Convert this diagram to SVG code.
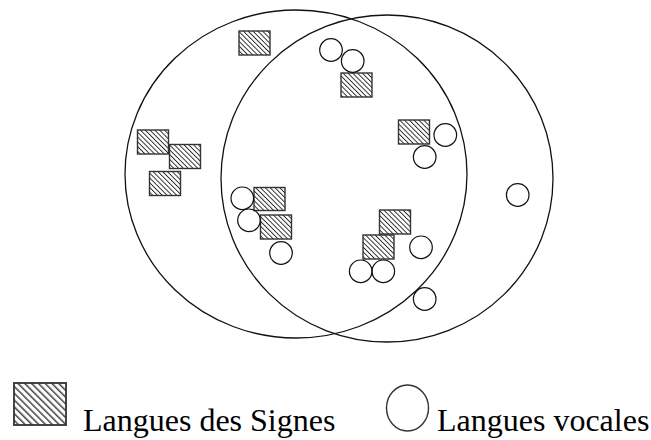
<svg xmlns="http://www.w3.org/2000/svg" width="651" height="440" viewBox="0 0 651 440">
<style>
.big{fill:none;stroke:#111;stroke-width:1.3}
.sq{fill:url(#hatch);stroke:#333;stroke-width:1.4}
.sqL{fill:url(#hatchL);stroke:#333;stroke-width:1.8}
.dot{fill:none;stroke:#111;stroke-width:1.2}
.lbl{font-size:32px;fill:#000}
</style>
<defs>
<pattern id="hatch" width="3.4" height="3.4" patternUnits="userSpaceOnUse" patternTransform="rotate(-45)">
<rect width="3.4" height="3.4" fill="#fff"/>
<line x1="0.5" y1="0" x2="0.5" y2="3.4" stroke="#111" stroke-width="0.85"/>
</pattern>
<pattern id="hatchL" width="4.8" height="4.8" patternUnits="userSpaceOnUse" patternTransform="rotate(-45)">
<rect width="4.8" height="4.8" fill="#fff"/>
<line x1="0.8" y1="0" x2="0.8" y2="4.8" stroke="#111" stroke-width="1.2"/>
</pattern>
</defs>
<rect width="651" height="440" fill="#fff"/>
<g id="sets">
<ellipse id="set-left" class="big" cx="296" cy="174" rx="171" ry="164"/>
<ellipse id="set-right" class="big" cx="387" cy="178.5" rx="166" ry="163.5"/>
</g>
<g id="signes">
<rect class="sq" x="239" y="31" width="31" height="24"/>
<rect class="sq" x="341" y="73" width="31" height="24"/>
<rect class="sq" x="398.5" y="120" width="31" height="24"/>
<rect class="sq" x="137.5" y="130" width="31" height="24"/>
<rect class="sq" x="169.5" y="144.5" width="31" height="24"/>
<rect class="sq" x="149.5" y="171.5" width="31" height="24"/>
<rect class="sq" x="254" y="187.5" width="31" height="23"/>
<rect class="sq" x="260.5" y="215" width="31" height="24"/>
<rect class="sq" x="379.5" y="210" width="31" height="24"/>
<rect class="sq" x="363" y="235" width="31" height="24"/>
</g>
<g id="vocales">
<circle class="dot" cx="331" cy="50" r="11.3"/>
<circle class="dot" cx="352.7" cy="61" r="11.3"/>
<circle class="dot" cx="445.3" cy="135" r="11.3"/>
<circle class="dot" cx="424.7" cy="157" r="11.3"/>
<circle class="dot" cx="517.7" cy="195" r="11.3"/>
<circle class="dot" cx="242.3" cy="198.3" r="11.3"/>
<circle class="dot" cx="249" cy="220.3" r="11.3"/>
<circle class="dot" cx="281" cy="253" r="11.3"/>
<circle class="dot" cx="421" cy="247.3" r="11.3"/>
<circle class="dot" cx="360.7" cy="271.3" r="11.3"/>
<circle class="dot" cx="383.3" cy="271.3" r="11.3"/>
<circle class="dot" cx="424.7" cy="299" r="11.3"/>
</g>
<g id="legend">
<g id="legend-signes">
<rect class="sqL" x="14" y="383" width="52" height="42"/>
<text class="lbl" x="83" y="431" font-family="'Liberation Serif', 'DejaVu Serif', serif">Langues des Signes</text>
</g>
<g id="legend-vocales">
<ellipse class="dot" cx="407.5" cy="408" rx="21" ry="23" style="stroke:#333;stroke-width:1.4"/>
<text class="lbl" x="437" y="431" font-family="'Liberation Serif', 'DejaVu Serif', serif">Langues vocales</text>
</g>
</g>
</svg>
